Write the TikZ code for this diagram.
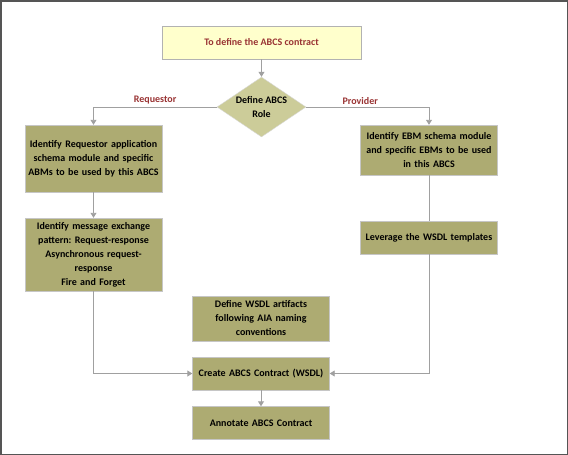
\documentclass[tikz,border=0pt]{standalone}
\usepackage{fontspec}
\setmainfont{Carlito}
\usetikzlibrary{arrows.meta,shapes.geometric}
\definecolor{khaki}{HTML}{ADAB72}
\definecolor{paleyellow}{HTML}{FFFFCC}
\definecolor{rolefill}{HTML}{CCCC99}
\definecolor{labelred}{HTML}{993333}
\definecolor{linegray}{HTML}{A0A0A0}
\definecolor{framegray}{HTML}{555555}
\frenchspacing
\tikzset{
  boxfont/.style={font=\bfseries\fontsize{10}{14}\selectfont},
  task/.style={boxfont, draw=gray!45, fill=khaki, align=center, inner xsep=0.5pt, inner ysep=0pt, text width=136pt},
  flow/.style={draw=linegray, line width=0.9pt, -{Triangle[width=6pt,length=5pt]}},
  plain/.style={draw=linegray, line width=0.9pt},
  branch/.style={boxfont, text=labelred, above, inner sep=2pt}
}
\begin{document}
\begin{tikzpicture}[x=1pt,y=-1pt]
\useasboundingbox (0,0) rectangle (568,455);
\draw[framegray, line width=1.5pt] (0.75,0.75) rectangle (567.25,454.25);

\node[boxfont, draw=gray!60, fill=paleyellow, text=labelred, minimum width=199pt, minimum height=33pt] (goal) at (261.5,42.5) {To define the ABCS contract};
\node[boxfont, diamond, draw=gray!30, fill=rolefill, align=center, aspect=1.5, inner sep=-3pt, minimum width=89pt, minimum height=60pt] (role) at (261.5,107) {Define ABCS\\Role};

\node[task, minimum height=67pt] (req) at (93.5,158.5) {Identify Requestor application\\schema module and specific\\ABMs to be used by this ABCS};
\node[task, minimum height=73pt] (pattern) at (93.5,254.5) {Identify message exchange\\pattern: Request-response\\Asynchronous request-\\response\\Fire and Forget};
\node[task, minimum height=50pt] (prov) at (429,150) {Identify EBM schema module\\and specific EBMs to be used\\in this ABCS};
\node[task, minimum height=33pt] (wsdltpl) at (429,237.5) {Leverage the WSDL templates};
\node[task, minimum height=45pt] (artifacts) at (261,318.5) {Define WSDL artifacts\\following AIA naming\\conventions};
\node[task, minimum height=33pt] (create) at (261,373.5) {Create ABCS Contract (WSDL)};
\node[task, minimum height=33pt] (annot) at (261,423) {Annotate ABCS Contract};

\draw[flow] (goal) -- (role);
\draw[flow] (role.west) -| (req) node[branch, pos=0.25] {Requestor};
\draw[flow] (role.east) -| (prov) node[branch, pos=0.22] {Provider};
\draw[flow] (req) -- (pattern);
\draw[plain] (prov) -- (wsdltpl);
\draw[flow] (pattern) |- (create);
\draw[flow] (wsdltpl) |- (create);
\draw[flow] (create) -- (annot);
\end{tikzpicture}
\end{document}
